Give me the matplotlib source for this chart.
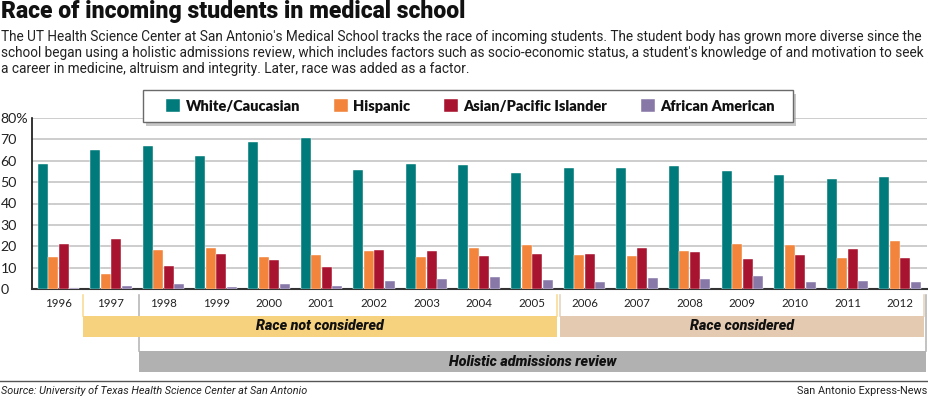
import matplotlib
matplotlib.use("Agg")
import matplotlib.pyplot as plt
from matplotlib.patches import Rectangle
from matplotlib.lines import Line2D
from matplotlib.transforms import blended_transform_factory
import numpy as np

# ---------------- data ----------------
years = [1996, 1997, 1998, 1999, 2000, 2001, 2002, 2003, 2004, 2005,
         2006, 2007, 2008, 2009, 2010, 2011, 2012]
white = [58.4, 65.1, 66.7, 62.3, 68.7, 70.6, 55.9, 58.3, 57.8, 54.5,
         56.4, 56.4, 57.5, 55.3, 53.1, 51.4, 52.6]
hispanic = [14.8, 7.0, 18.1, 19.2, 15.1, 15.9, 17.8, 15.1, 19.3, 20.4,
            15.9, 15.4, 17.6, 20.9, 20.4, 14.5, 22.6]
asian = [20.9, 23.2, 10.6, 16.2, 13.6, 10.1, 18.4, 17.9, 15.4, 16.5,
         16.4, 19.2, 17.1, 14.0, 15.9, 18.5, 14.5]
african = [0.5, 1.6, 2.2, 1.1, 2.2, 1.6, 3.6, 4.8, 5.5, 4.0,
           3.1, 5.0, 4.8, 5.9, 3.1, 3.6, 3.3]
series_names = ["White/Caucasian", "Hispanic", "Asian/Pacific Islander", "African American"]
series_values = [white, hispanic, asian, african]
series_colors = ["#007a7a", "#f2843b", "#a8132f", "#8878a8"]

y_ticks = [0, 10, 20, 30, 40, 50, 60, 70, 80]
y_tick_labels = ["0", "10", "20", "30", "40", "50", "60", "70", "80%"]

period_not = (1997, 2005, "Race not considered")
period_yes = (2006, 2012, "Race considered")
period_hol = (1998, 2012, "Holistic admissions review")

title = "Race of incoming students in medical school"
subtitle_lines = [
    "The UT Health Science Center at San Antonio's Medical School tracks the race of incoming students. The student body has grown more diverse since the",
    "school began using a holistic admissions review, which includes factors such as socio-economic status, a student's knowledge of and motivation to seek",
    "a career in medicine, altruism and integrity. Later, race was added as a factor.",
]
source = "Source: University of Texas Health Science Center at San Antonio"
credit = "San Antonio Express-News"

# ---------------- figure ----------------
W, H = 929, 397
fig = plt.figure(figsize=(W / 100, H / 100), dpi=100)
R = fig.canvas.get_renderer()


def fy(px):
    return 1 - px / H


def fit(t, px):
    w = t.get_window_extent(R).width
    t.set_fontsize(t.get_fontsize() * px / w)
    return t.get_fontsize()


ax = fig.add_axes([32 / W, fy(289), (927 - 32) / W, (289 - 118) / H])
x = np.arange(len(years))
bw = 0.2
bars = []
for k, (name, vals, col) in enumerate(zip(series_names, series_values, series_colors)):
    b = ax.bar(x + (k - 1.5) * bw, vals, width=0.19, color=col, label=name,
               edgecolor="white", linewidth=0.3, zorder=3)
    bars.append(b)

ax.set_xlim(-0.5, len(years) - 0.49)
ax.set_ylim(0, 80)
ax.yaxis.grid(True, color="#c9c9c9", linewidth=1.3, zorder=0)
ax.set_axisbelow(True)
for s in ["top", "right"]:
    ax.spines[s].set_visible(False)
ax.spines["left"].set_color("#111111")
ax.spines["left"].set_linewidth(1.2)
ax.spines["bottom"].set_color("#333333")
ax.spines["bottom"].set_linewidth(1.5)

# tick labels
tmp = fig.text(0, 0, "1996", family="Lato")
tick_fs = fit(tmp, 26.7)
tmp.remove()
tmp = fig.text(0, 0, "80%", family="Lato")
ytick_fs = fit(tmp, 27.5)
tmp.remove()
ax.set_xticks(x)
ax.set_xticklabels([str(y) for y in years], family="Lato", fontsize=tick_fs, color="#222222")
ax.set_yticks(y_ticks)
ax.set_yticklabels(y_tick_labels, family="Lato", fontsize=ytick_fs, color="#222222")
ax.tick_params(axis="x", length=0, pad=6.5)
ax.tick_params(axis="y", length=0, pad=31.5 * 0.72)
for lab in ax.get_yticklabels():
    lab.set_ha("left")

# ---------------- title & subtitle ----------------
t = fig.text(1 / W, fy(11.5), title, family="Roboto", weight="heavy", va="center", color="#111111")
fit(t, 465)
sub_fs = None
for i, line in enumerate(subtitle_lines):
    st = fig.text(1 / W, fy(36.5 + 16.5 * i), line, family="Roboto", va="center", color="#222222")
    if i == 0:
        sub_fs = fit(st, 926)
    else:
        st.set_fontsize(sub_fs)

# ---------------- legend ----------------
frame_x0, frame_x1, frame_y0, frame_y1 = 143, 793, 90, 122
fig.patches.append(Rectangle(((frame_x0 + 3) / W, fy(frame_y1 + 4)), (frame_x1 - frame_x0) / W,
                             (frame_y1 - frame_y0) / H, transform=fig.transFigure,
                             facecolor="#9a9a9a", edgecolor="none", alpha=0.55, zorder=3))
fig.patches.append(Rectangle((frame_x0 / W, fy(frame_y1)), (frame_x1 - frame_x0) / W,
                             (frame_y1 - frame_y0) / H, transform=fig.transFigure,
                             facecolor="white", edgecolor="#6a6a6a", linewidth=1.0, zorder=4))
tmp = fig.text(0, 0, "White/Caucasian", family="Lato", weight="heavy")
leg_fs = fit(tmp, 114)
tmp.remove()
fpx = leg_fs * 100 / 72
leg = fig.legend(handles=bars, labels=series_names, ncol=4, mode="expand",
                 loc="center", bbox_to_anchor=(166 / W, fy(106), (775 - 166) / W, 0),
                 bbox_transform=fig.transFigure, frameon=False, borderpad=0, borderaxespad=0,
                 handlelength=14 / fpx, handleheight=15 / fpx, handletextpad=5.5 / fpx,
                 prop={"family": "Lato", "weight": "heavy", "size": leg_fs})
leg.set_zorder(6)
for txt in leg.get_texts():
    txt.set_color("#111111")

# ---------------- period boxes ----------------
tr = blended_transform_factory(ax.transData, fig.transFigure)
yi = years.index


def period_box(start, end, label, l_off, r_off, top, bottom, face, line_col):
    x0 = yi(start) + l_off
    x1 = yi(end) + r_off
    fig.patches.append(Rectangle((x0, fy(bottom)), x1 - x0, (bottom - top) / H, transform=tr,
                                 facecolor=face, edgecolor="none", zorder=1))
    for xx in (x0, x1):
        fig.lines.append(Line2D([xx, xx], [fy(295), fy(top)], transform=tr, color=line_col,
                                linewidth=1.2, zorder=1))
    tt = fig.text((x0 + x1) / 2, fy((top + bottom) / 2), label, transform=tr, ha="center",
                  va="center", family="Roboto", weight="heavy", style="italic", color="#111111")
    return tt


t1 = period_box(*period_not, -0.53, 0.48, 316, 337, "#f6d27f", "#f8dc98")
t2 = period_box(*period_yes, -0.46, 0.45, 316, 337, "#e4cab0", "#e8d4bf")
t3 = period_box(*period_hol, -0.47, 0.49, 351, 372, "#b1b1b1", "#b8b8b8")
box_fs = fit(t1, 128)
t2.set_fontsize(box_fs)
t3.set_fontsize(box_fs)

# ---------------- footer ----------------
fig.lines.append(Line2D([0, 1], [fy(381), fy(381)], transform=fig.transFigure, color="#555555",
                        linewidth=1.0))
s = fig.text(1 / W, fy(391), source, family="Roboto", style="italic", va="center", color="#222222")
foot_fs = fit(s, 305)
fig.text(927 / W, fy(391), credit, family="Roboto", va="center", ha="right", color="#222222",
         fontsize=foot_fs)

fig.savefig("out.png", dpi=100, facecolor="white")
